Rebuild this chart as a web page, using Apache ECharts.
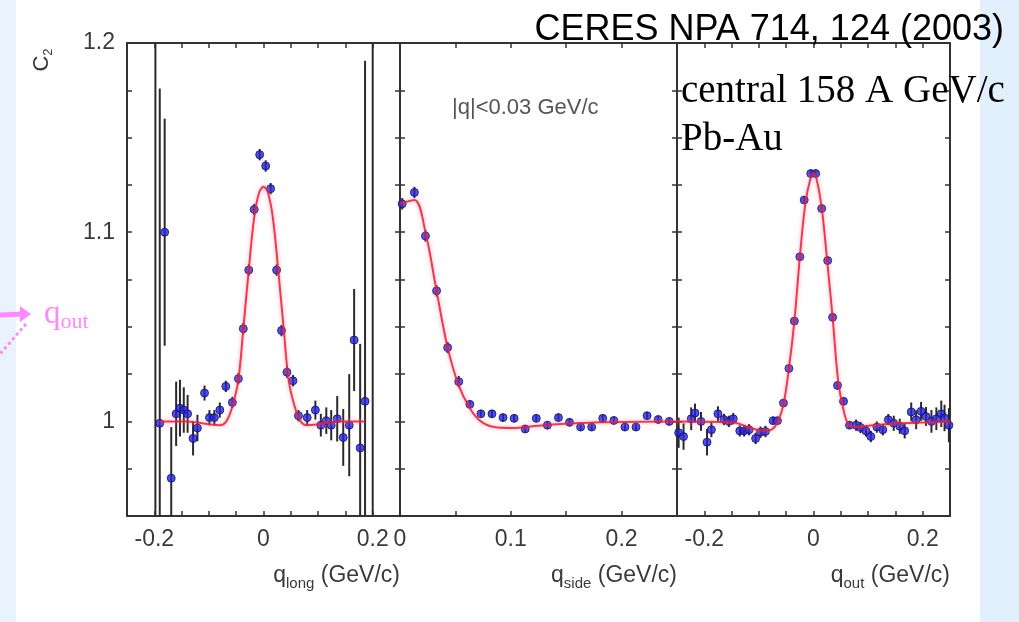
<!DOCTYPE html>
<html>
<head>
<meta charset="utf-8">
<title>CERES C2 projections</title>
<script src="https://cdn.jsdelivr.net/npm/echarts@6/dist/echarts.min.js"></script>
<style>
  html, body { margin: 0; padding: 0; }
  body {
    background: linear-gradient(to right, #e9f3fe 0, #e9f3fe 16px, #ffffff 16px, #ffffff 980px, #e2effd 980px);
  }
  #chart { width: 1019px; height: 622px; }
</style>
</head>
<body>
<div id="chart"></div>
<script>
// q_long panel: points, errors, fit
const longQ = [-0.198, -0.190, -0.181, -0.169, -0.160, -0.153, -0.146, -0.139, -0.129, -0.121, -0.108, -0.099, -0.090, -0.080, -0.069, -0.057, -0.046, -0.037, -0.027, -0.017, -0.007, 0.004, 0.013, 0.024, 0.033, 0.043, 0.054, 0.064, 0.080, 0.095, 0.105, 0.115, 0.124, 0.135, 0.146, 0.157, 0.166, 0.177, 0.186, 0.200];
const longC = [0.930, 0.999, 1.100, 0.970, 1.004, 1.007, 1.006, 1.004, 0.991, 0.9965, 1.015, 1.002, 1.002, 1.006, 1.0185, 1.010, 1.0226, 1.049, 1.080, 1.112, 1.141, 1.135, 1.123, 1.080, 1.048, 1.026, 1.0215, 1.003, 1.002, 1.006, 0.998, 1.0004, 0.998, 1.0014, 0.9915, 0.998, 1.043, 0.986, 1.0106, 0.930];
const longErr = [0.30, 0.177, 0.06, 0.027, 0.017, 0.015, 0.012, 0.010, 0.009, 0.007, 0.004, 0.004, 0.004, 0.004, 0.003, 0.003, 0.003, 0.003, 0.003, 0.003, 0.003, 0.003, 0.003, 0.003, 0.003, 0.003, 0.003, 0.003, 0.004, 0.005, 0.006, 0.007, 0.008, 0.012, 0.015, 0.027, 0.027, 0.055, 0.18, 0.30];
const longFitQ = [-0.19, -0.14, -0.1, -0.08, -0.068, -0.057, -0.046, -0.037, -0.027, -0.017, -0.008, 0, 0.008, 0.017, 0.027, 0.037, 0.046, 0.057, 0.068, 0.08, 0.1, 0.14, 0.185];
const longFitC = [1.0, 1.0, 0.9985, 0.998, 1.0, 1.008, 1.022, 1.049, 1.080, 1.108, 1.121, 1.124, 1.121, 1.108, 1.080, 1.049, 1.022, 1.008, 1.0, 0.998, 0.9985, 1.0, 1.0];

// q_side panel
const sideQ = [0.002, 0.013, 0.023, 0.033, 0.043, 0.053, 0.063, 0.073, 0.083, 0.093, 0.103, 0.113, 0.123, 0.133, 0.143, 0.153, 0.163, 0.173, 0.183, 0.193, 0.203, 0.213, 0.223, 0.233, 0.243];
const sideC = [1.115, 1.121, 1.098, 1.069, 1.039, 1.021, 1.009, 1.004, 1.004, 1.002, 1.0016, 0.996, 1.0016, 0.998, 1.002, 0.9995, 0.997, 0.997, 1.0016, 1.0005, 0.997, 0.997, 1.003, 1.001, 1.000];
const sideErr = [0.003, 0.003, 0.003, 0.003, 0.003, 0.003, 0.002, 0.002, 0.002, 0.002, 0.002, 0.002, 0.002, 0.002, 0.002, 0.002, 0.002, 0.002, 0.002, 0.002, 0.002, 0.002, 0.002, 0.002, 0.002];
const sideFitQ = [0, 0.013, 0.023, 0.033, 0.043, 0.053, 0.063, 0.073, 0.085, 0.1, 0.13, 0.18, 0.25];
const sideFitC = [1.115, 1.117, 1.100, 1.069, 1.039, 1.019, 1.007, 1.0, 0.997, 0.9965, 0.998, 0.9995, 1.0];

// q_out panel
const outQ = [-0.247, -0.238, -0.224, -0.217, -0.206, -0.195, -0.187, -0.175, -0.164, -0.155, -0.147, -0.135, -0.127, -0.118, -0.106, -0.097, -0.088, -0.074, -0.066, -0.055, -0.045, -0.035, -0.025, -0.017, -0.005, 0.004, 0.015, 0.026, 0.035, 0.044, 0.055, 0.066, 0.078, 0.086, 0.096, 0.105, 0.116, 0.127, 0.137, 0.147, 0.158, 0.167, 0.179, 0.188, 0.197, 0.206, 0.216, 0.225, 0.234, 0.240, 0.248];
const outC = [0.994, 0.992, 1.0014, 1.0044, 1.0, 0.989, 0.9956, 1.004, 1.001, 1.0, 1.0014, 0.995, 0.995, 0.9956, 0.991, 0.9943, 0.9947, 1.0004, 1.0004, 1.0097, 1.028, 1.053, 1.087, 1.117, 1.131, 1.131, 1.1125, 1.085, 1.055, 1.019, 1.0106, 0.998, 0.998, 0.9968, 0.995, 0.992, 0.997, 0.9956, 1.0009, 0.999, 0.9974, 0.995, 1.005, 1.0009, 1.0053, 1.0026, 1.0, 1.0014, 1.004, 1.0018, 0.998];
const outErr = [0.008, 0.007, 0.006, 0.005, 0.005, 0.007, 0.004, 0.004, 0.003, 0.003, 0.003, 0.003, 0.003, 0.003, 0.003, 0.003, 0.003, 0.002, 0.002, 0.002, 0.002, 0.002, 0.002, 0.002, 0.002, 0.002, 0.002, 0.002, 0.002, 0.002, 0.002, 0.002, 0.003, 0.003, 0.003, 0.003, 0.003, 0.003, 0.003, 0.004, 0.004, 0.004, 0.005, 0.005, 0.005, 0.005, 0.006, 0.006, 0.007, 0.007, 0.009];
const outFitQ = [-0.25, -0.15, -0.11, -0.09, -0.075, -0.065, -0.055, -0.045, -0.035, -0.025, -0.015, -0.005, 0, 0.005, 0.015, 0.025, 0.035, 0.045, 0.055, 0.065, 0.08, 0.11, 0.16, 0.25];
const outFitC = [1.0, 0.9995, 0.996, 0.995, 0.996, 1.0, 1.009, 1.028, 1.053, 1.087, 1.115, 1.129, 1.131, 1.129, 1.113, 1.085, 1.055, 1.022, 1.006, 0.998, 0.997, 0.998, 0.999, 1.0];

// axis ranges and which tick labels are printed
const yMin = 0.95, yMax = 1.2;
const yLabels = [1, 1.1, 1.2];
const longLabels = [-0.2, 0, 0.2];
const sideLabels = [0, 0.1, 0.2];
const outLabels = [-0.2, 0, 0.2];

const FONT = 'Liberation Sans';
const AXIS = '#333';

const zip3 = (a, b, c) => a.map((v, i) => [v, b[i], c[i]]);
const zip2 = (a, b) => a.map((v, i) => [v, b[i]]);

function pick(list, v, digits) {
  const r = Math.round(v * digits) / digits;
  return list.some(l => Math.abs(l - r) < 1e-9) ? String(r) : '';
}

function xAxes(gi, min, max, labels, name) {
  const bottom = {
    type: 'value', gridIndex: gi, min: min, max: max, interval: 0.05, position: 'bottom',
    axisLine: { onZero: false, lineStyle: { color: AXIS, width: 2 } },
    axisTick: { inside: true, length: 5, lineStyle: { color: AXIS, width: 1.5 } },
    splitLine: { show: false },
    axisLabel: {
      showMinLabel: true, showMaxLabel: true, margin: 12,
      color: '#3a3a3a', fontSize: 23, fontFamily: FONT,
      formatter: v => pick(labels, v, 100)
    },
    name: '{n|q}{s|' + name + '}{n| (GeV/c)}',
    nameLocation: 'end', nameGap: 0,
    nameTextStyle: {
      align: 'right', verticalAlign: 'top', padding: [45, 0, 0, 0],
      rich: {
        n: { fontSize: 23, fontFamily: FONT, color: '#3a3a3a', lineHeight: 30, verticalAlign: 'middle' },
        s: { fontSize: 15, fontFamily: FONT, color: '#3a3a3a', lineHeight: 30, verticalAlign: 'bottom' }
      }
    }
  };
  const top = {
    type: 'value', gridIndex: gi, min: min, max: max, interval: 0.05, position: 'top',
    axisLine: { onZero: false, lineStyle: { color: AXIS, width: 2 } },
    axisTick: { inside: true, length: 5, lineStyle: { color: AXIS, width: 1.5 } },
    splitLine: { show: false },
    axisLabel: { show: false }
  };
  return [bottom, top];
}

function yAxes(gi, withLabels) {
  const base = {
    type: 'value', gridIndex: gi, min: yMin, max: yMax, interval: 0.025,
    axisLine: { show: true, onZero: false, lineStyle: { color: AXIS, width: 2 } },
    axisTick: { show: true, inside: true, length: 5, lineStyle: { color: AXIS, width: 1.5 } },
    splitLine: { show: false }
  };
  const left = Object.assign({}, base, {
    position: 'left',
    axisLabel: withLabels ? {
      showMinLabel: true, showMaxLabel: true, margin: 12,
      color: '#3a3a3a', fontSize: 23, fontFamily: FONT,
      formatter: v => pick(yLabels, v, 1000)
    } : { show: false }
  });
  const right = Object.assign({}, base, { position: 'right', axisLabel: { show: false } });
  return [left, right];
}

function errorBars(params, api) {
  const q = api.value(0), c = api.value(1), e = api.value(2);
  const lo = Math.max(c - e, yMin), hi = Math.min(c + e, yMax);
  if (hi <= lo) return;
  const p1 = api.coord([q, hi]);
  const p2 = api.coord([q, lo]);
  return {
    type: 'line',
    shape: { x1: p1[0], y1: p1[1], x2: p2[0], y2: p2[1] },
    style: { stroke: '#2b2b2b', lineWidth: 2 }
  };
}

function panelSeries(gi, q, c, err, fitQ, fitC) {
  const xi = gi * 2, yi = gi * 2;
  return [
    {
      type: 'custom', xAxisIndex: xi, yAxisIndex: yi, renderItem: errorBars,
      data: zip3(q, c, err), encode: { x: 0, y: 1 }, z: 2, silent: true
    },
    {
      type: 'scatter', xAxisIndex: xi, yAxisIndex: yi, data: zip2(q, c),
      symbol: 'circle', symbolSize: 8, z: 3,
      itemStyle: { color: '#2323e4', borderColor: '#12125e', borderWidth: 1 }
    },
    {
      type: 'line', xAxisIndex: xi, yAxisIndex: yi, data: zip2(fitQ, fitC),
      showSymbol: false, smooth: 0.35, z: 4,
      lineStyle: { color: '#ea1f2c', width: 2, opacity: 0.85, shadowBlur: 4, shadowColor: 'rgba(255,120,170,0.8)' }
    }
  ];
}

const chart = echarts.init(document.getElementById('chart'));
chart.setOption({
  animation: false,
  backgroundColor: 'transparent',
  grid: [
    { left: 127, top: 43, width: 273, height: 473 },
    { left: 400, top: 43, width: 277, height: 473 },
    { left: 677, top: 43, width: 273, height: 473 }
  ],
  xAxis: [].concat(
    xAxes(0, -0.25, 0.25, longLabels, 'long'),
    xAxes(1, 0, 0.25, sideLabels, 'side'),
    xAxes(2, -0.25, 0.25, outLabels, 'out')
  ),
  yAxis: [].concat(yAxes(0, true), yAxes(1, false), yAxes(2, false)),
  series: [].concat(
    panelSeries(0, longQ, longC, longErr, longFitQ, longFitC),
    panelSeries(1, sideQ, sideC, sideErr, sideFitQ, sideFitC),
    panelSeries(2, outQ, outC, outErr, outFitQ, outFitC)
  ),
  graphic: [
    {
      type: 'text', x: 42, y: 60, rotation: Math.PI / 2,
      style: {
        text: '{c|C}{s|2}', align: 'center', verticalAlign: 'middle',
        rich: {
          c: { fontSize: 22, fontFamily: FONT, fill: '#3a3a3a', lineHeight: 26, verticalAlign: 'middle' },
          s: { fontSize: 13, fontFamily: FONT, fill: '#3a3a3a', lineHeight: 26, verticalAlign: 'bottom' }
        }
      }
    },
    {
      type: 'text', x: 452, y: 108,
      style: { text: '|q|<0.03 GeV/c', fontSize: 22, fontFamily: FONT, fill: '#555', align: 'left', verticalAlign: 'middle' }
    },
    {
      type: 'text', x: 1004, y: 30, z: 10,
      style: { text: 'CERES NPA 714, 124 (2003)', fontSize: 36, fontFamily: FONT, fill: '#000', align: 'right', verticalAlign: 'middle' }
    },
    {
      type: 'text', x: 681, y: 92, z: 10,
      style: { text: 'central 158 A GeV/c', fontSize: 39, fontFamily: 'Liberation Serif', fill: '#000', align: 'left', verticalAlign: 'middle' }
    },
    {
      type: 'text', x: 681, y: 140, z: 10,
      style: { text: 'Pb-Au', fontSize: 39, fontFamily: 'Liberation Serif', fill: '#000', align: 'left', verticalAlign: 'middle' }
    },
    {
      type: 'text', x: 44, y: 314, z: 10,
      style: {
        text: '{q|q}{o|out}', align: 'left', verticalAlign: 'middle',
        rich: {
          q: { fontSize: 33, fontFamily: 'Liberation Serif', fill: '#ff88ff', lineHeight: 38, verticalAlign: 'middle' },
          o: { fontSize: 22, fontFamily: 'Liberation Serif', fill: '#ff88ff', lineHeight: 38, verticalAlign: 'bottom' }
        }
      }
    },
    {
      type: 'line', z: 10,
      shape: { x1: 0, y1: 315, x2: 24, y2: 314 },
      style: { stroke: '#ff88ff', lineWidth: 5 }
    },
    {
      type: 'polygon', z: 10,
      shape: { points: [[20, 306], [31, 314], [20, 322]] },
      style: { fill: '#ff88ff' }
    },
    {
      type: 'line', z: 10,
      shape: { x1: 26, y1: 324, x2: 0, y2: 354 },
      style: { stroke: '#ff88ff', lineWidth: 3, lineDash: [3, 3] }
    }
  ]
});
</script>
</body>
</html>
